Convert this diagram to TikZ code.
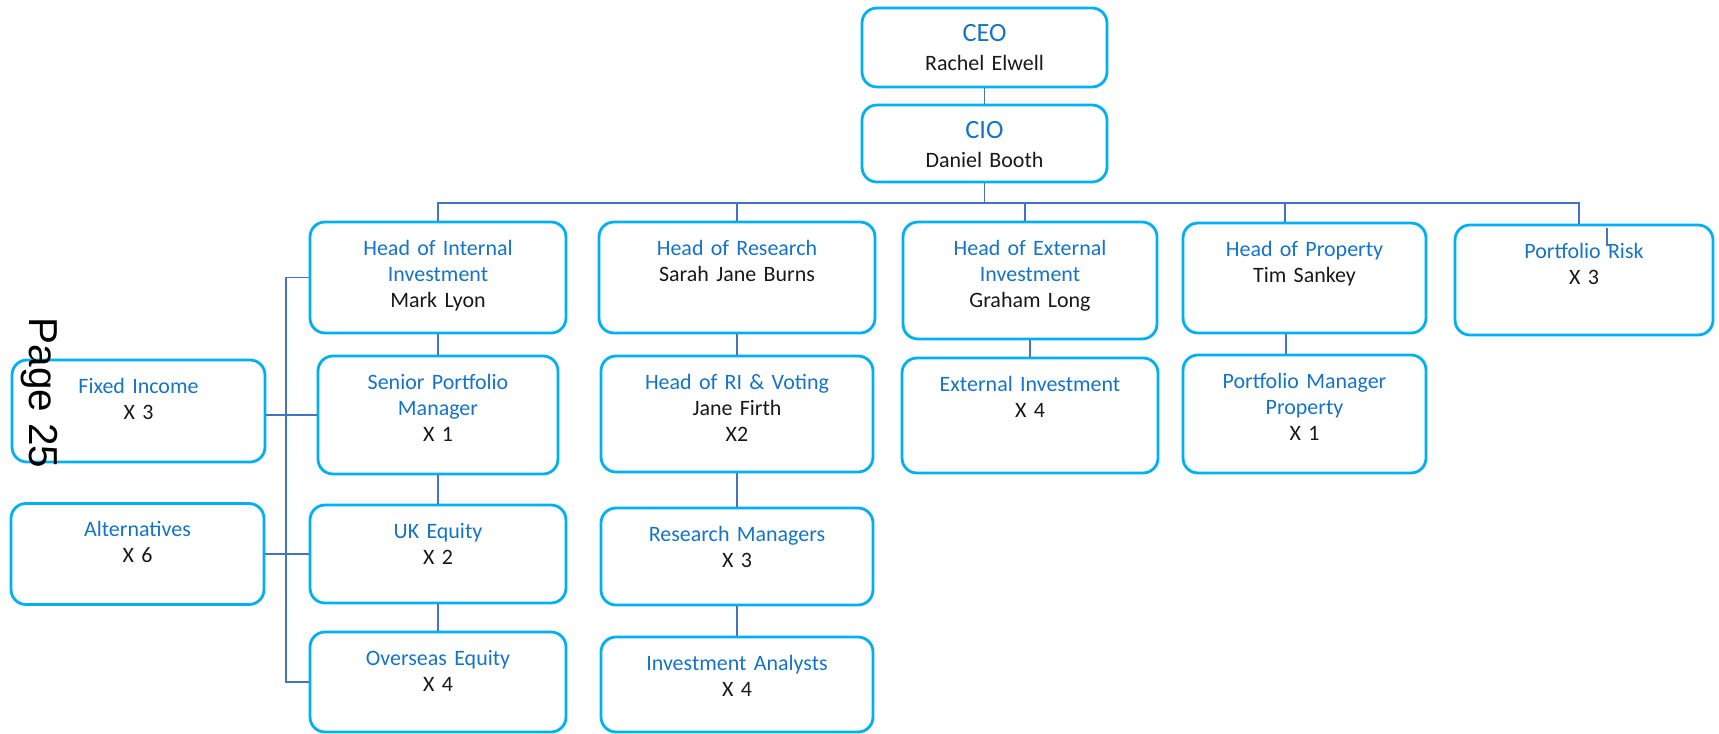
\documentclass[tikz,border=0pt]{standalone}
\usepackage{fontspec}
\setmainfont{Carlito}
\newfontfamily\pagefont{Liberation Sans}
\usetikzlibrary{positioning,calc}
\definecolor{boxblue}{RGB}{0,176,240}
\definecolor{linkblue}{RGB}{68,114,196}
\definecolor{roleblue}{RGB}{22,116,200}
\definecolor{namegray}{RGB}{25,25,25}
\newcommand{\role}[1]{\textcolor{roleblue}{#1}}
\tikzset{
    post/.style 2 args = {
        draw=boxblue,
        line width=1.6pt,
        fill=white,
        rectangle,
        rounded corners=0.3cm,
        inner sep=0pt,
        text=namegray,
        align=center,
        text width=#1,
        text height=0.66cm,
        text depth=#2,
        font=\fontsize{12.5}{15}\selectfont
    },
    link/.style = {
        draw=linkblue,
        line width=1.1pt
    },
    pagemark/.style = {
        rotate=-90,
        font=\pagefont\fontsize{23}{23}\selectfont
    }
}

\begin{document}
\begin{tikzpicture}[node distance=2cm]
    \useasboundingbox (0,0) rectangle (34.38,-14.66);
    % nodes
    \node [post={4.9cm}{0.92cm}] (ceo) at (19.69,-0.95) {\role{\fontsize{15}{15}\selectfont CEO}\\[2pt]Rachel Elwell};
    \node [post={4.9cm}{0.88cm}, below of=ceo, node distance=1.92cm] (cio) {\role{\fontsize{15}{15}\selectfont CIO}\\[2pt]Daniel Booth};

    \node [post={5.12cm}{1.56cm}, below of=cio, node distance=2.68cm, xshift=-10.93cm] (headint) {\role{Head of Internal}\\\role{Investment}\\Mark Lyon};
    \node [post={5.52cm}{1.56cm}, right of=headint, node distance=5.98cm] (headres) {\role{Head of Research}\\Sarah Jane Burns};
    \node [post={5.08cm}{1.68cm}, right of=headres, node distance=5.86cm, yshift=-0.06cm] (headext) {\role{Head of External}\\\role{Investment}\\Graham Long};
    \node [post={4.86cm}{1.54cm}, right of=headext, node distance=5.49cm, yshift=0.05cm] (headprop) {\role{Head of Property}\\Tim Sankey};
    \node [post={5.16cm}{1.54cm}, right of=headprop, node distance=5.59cm, yshift=-0.04cm] (risk) {\role{Portfolio Risk}\\X 3};

    \node [post={4.8cm}{1.70cm}, below of=headint, node distance=2.75cm] (seniorpm) {\role{Senior Portfolio}\\\role{Manager}\\X 1};
    \node [post={5.12cm}{1.30cm}, below of=seniorpm, node distance=2.78cm] (ukeq) {\role{UK Equity}\\X 2};
    \node [post={5.12cm}{1.34cm}, below of=ukeq, node distance=2.56cm] (overseas) {\role{Overseas Equity}\\X 4};
    \node [post={5.06cm}{1.38cm}, left of=seniorpm, node distance=5.99cm, yshift=0.08cm] (fixedinc) {\role{Fixed Income}\\X 3};
    \node [post={5.06cm}{1.36cm}, left of=ukeq, node distance=6.01cm] (altern) {\role{Alternatives}\\X 6};

    \node [post={5.44cm}{1.66cm}, below of=headres, node distance=2.73cm] (rivoting) {\role{Head of RI \& Voting}\\Jane Firth\\X2};
    \node [post={5.44cm}{1.28cm}, below of=rivoting, node distance=2.85cm] (resman) {\role{Research Managers}\\X 3};
    \node [post={5.44cm}{1.24cm}, below of=resman, node distance=2.56cm] (analysts) {\role{Investment Analysts}\\X 4};

    \node [post={5.12cm}{1.64cm}, below of=headext, node distance=2.70cm] (extinv) {\role{External Investment}\\X 4};
    \node [post={4.86cm}{1.70cm}, below of=headprop, node distance=2.72cm] (pmprop) {\role{Portfolio Manager}\\\role{Property}\\X 1};

    % lines
    \coordinate (bus) at ($(cio.south)+(0,-0.4)$);
    \draw [link] (ceo) -- (cio);
    \draw [link] (cio) -- (bus);
    \draw [link] (bus) -| (headint);
    \draw [link] (bus) -| (headres);
    \draw [link] (bus) -| ([xshift=-0.1cm]headext.north);
    \draw [link] (bus) -| ([xshift=-0.39cm]headprop.north);
    \draw [link] (bus) -| ([xshift=-0.1cm]risk.north);
    \draw [link] ([xshift=0.46cm,yshift=-0.08cm]risk.north) -- ++(0,-0.34) -- ++(0.08,0);

    \draw [link] (headint) -- (seniorpm);
    \draw [link] (seniorpm) -- (ukeq);
    \draw [link] (ukeq) -- (overseas);
    \draw [link] (headint.west) -- ++(-0.46,0) |- (overseas.west);
    \draw [link] (fixedinc.east |- seniorpm.west) -- (seniorpm.west);
    \draw [link] (altern.east |- ukeq.west) -- (ukeq.west);

    \draw [link] (headres.south) -- (rivoting.north);
    \draw [link] (rivoting) -- (resman);
    \draw [link] (resman) -- (analysts);
    \draw [link] (headext.south) -- (headext.south |- extinv.north);
    \draw [link] ([xshift=-0.37cm]headprop.south) -- ([xshift=-0.37cm]pmprop.north);

    \node [pagemark] (pagenum) at (0.78,-7.86) {Page 25};
\end{tikzpicture}
\end{document}
